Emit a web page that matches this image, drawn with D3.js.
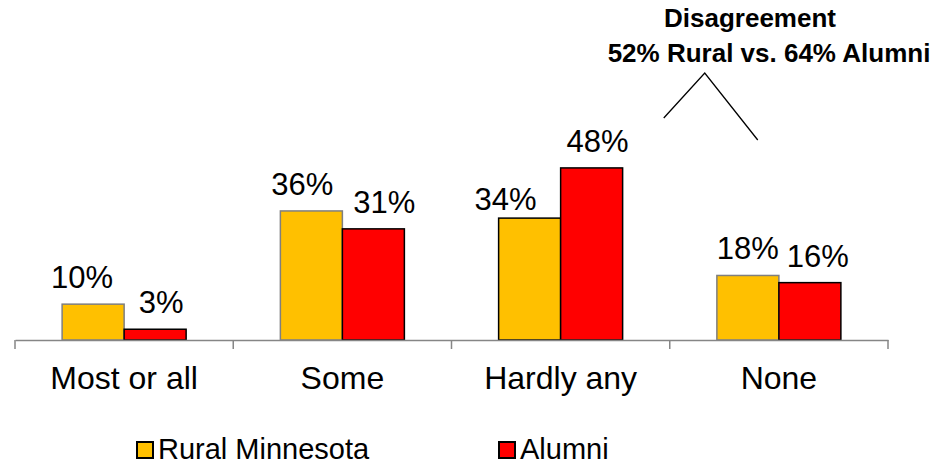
<!DOCTYPE html>
<html>
<head>
<meta charset="utf-8">
<script src="https://cdn.jsdelivr.net/npm/d3@7"></script>
<style>
    body { margin: 0; background: #fff; }
    svg { display: block; font-family: "Liberation Sans", Arial, sans-serif; }
</style>
</head>
<body>
<svg id="chart" width="952" height="466"></svg>
<script>
// Data
const categories = ['Most or all', 'Some', 'Hardly any', 'None'];
const series = ['Rural Minnesota', 'Alumni'];
const ruralValues = [10, 36, 34, 18];
const alumniValues = [3, 31, 48, 16];
const noteLines = ['Disagreement', '52% Rural vs. 64% Alumni'];

// Visual configs
const width = 952, height = 466;
const plot = { left: 15, right: 888, bottom: 340 };
const colors = ['#FFC000', '#FF0000'];
const ruralEdge = ['#7f7f7f', '#7f7f7f', '#000000', '#7f7f7f'];
// hand-placed label nudges, as in the source slide
const labelNudge = [[[-11, 0], [6, 0]], [[-9, 0], [11, 0]], [[-24, 8], [6, 0]], [[0, 0], [8, 0]]];

const svg = d3.select('#chart');

const x0 = d3.scaleBand().domain(categories).range([plot.left, plot.right]);
const x1 = d3.scaleBand().domain(series).range([0, x0.bandwidth()]).paddingOuter(0.76);
const y = d3.scaleLinear().domain([0, 60]).range([plot.bottom, plot.bottom - 215.1]);

const rows = categories.map((c, i) => ({
    category: c,
    values: [
        { key: series[0], value: ruralValues[i], edge: ruralEdge[i], nudge: labelNudge[i][0] },
        { key: series[1], value: alumniValues[i], edge: '#000000', nudge: labelNudge[i][1] }
    ]
}));

// Bars
const groups = svg.append('g').attr('class', 'bars')
    .selectAll('g').data(rows).enter().append('g')
    .attr('transform', d => 'translate(' + x0(d.category) + ',0)');

groups.selectAll('rect').data(d => d.values).enter().append('rect')
    .attr('x', d => x1(d.key))
    .attr('y', d => y(d.value))
    .attr('width', x1.bandwidth())
    .attr('height', d => y(0) - y(d.value))
    .attr('fill', (d, i) => colors[i])
    .attr('stroke', d => d.edge)
    .attr('stroke-width', 1.5);

groups.selectAll('text').data(d => d.values).enter().append('text')
    .attr('x', d => x1(d.key) + x1.bandwidth() / 2 + d.nudge[0])
    .attr('y', d => y(d.value) - 16 + d.nudge[1])
    .attr('text-anchor', 'middle')
    .attr('font-size', 31)
    .attr('fill', '#000')
    .text(d => d.value + '%');

// Axis
const xAxis = d3.axisBottom(x0).tickSize(0).tickSizeOuter(0).tickPadding(0);
const axisG = svg.append('g').attr('transform', 'translate(0,' + plot.bottom + ')');
axisG.call(xAxis);
axisG.select('.domain').attr('stroke', '#868686').attr('stroke-width', 1.5);
axisG.selectAll('.tick text')
    .attr('font-size', 32)
    .attr('fill', '#000')
    .attr('dy', 0)
    .attr('y', 49)
    .attr('font-family', '"Liberation Sans", Arial, sans-serif');
const boundaries = categories.map(c => x0(c)).concat([x0.range()[1]]);
axisG.selectAll('line.sep').data(boundaries).enter().append('line')
    .attr('class', 'sep')
    .attr('x1', d => d).attr('x2', d => d)
    .attr('y1', 0).attr('y2', 9)
    .attr('stroke', '#868686')
    .attr('stroke-width', 1.5);

// Annotation
const note = svg.append('g').attr('class', 'note');
note.selectAll('text').data(noteLines).enter().append('text')
    .attr('x', (d, i) => i === 0 ? 750 : 769)
    .attr('y', (d, i) => i === 0 ? 27 : 62)
    .attr('text-anchor', 'middle')
    .attr('font-size', 26)
    .attr('font-weight', 'bold')
    .text(String);

const split = x0(categories[3]);
const bracket = [[split - 6, 118], [split + 35, 73], [split + 88, 140]];
note.append('path')
    .attr('d', d3.line()(bracket))
    .attr('fill', 'none')
    .attr('stroke', '#000')
    .attr('stroke-width', 1.3);

// Legend
const legend = svg.append('g').attr('class', 'legend')
    .selectAll('g').data(series).enter().append('g')
    .attr('transform', (d, i) => 'translate(' + (i === 0 ? 137 : 499) + ',442)');
legend.append('rect')
    .attr('width', 16).attr('height', 16)
    .attr('fill', (d, i) => colors[i])
    .attr('stroke', '#000')
    .attr('stroke-width', 2);
legend.append('text')
    .attr('x', 21)
    .attr('y', 17)
    .attr('font-size', 29)
    .text(String);
</script>
</body>
</html>
